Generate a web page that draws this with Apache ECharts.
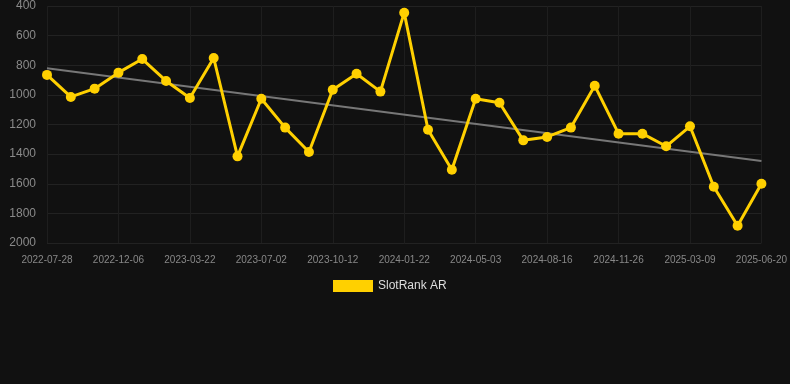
<!DOCTYPE html>
<html><head><meta charset="utf-8">
<script src="https://cdn.jsdelivr.net/npm/echarts@6/dist/echarts.min.js"></script>
<style>html,body{margin:0;padding:0;background:#111111;}#c{width:790px;height:384px;}</style>
</head><body><div id="c"></div>
<script>
const dates = ["2022-07-28","2022-09-10","2022-10-23","2022-12-06","2023-01-10","2023-02-14","2023-03-22","2023-04-25","2023-05-29","2023-07-02","2023-08-05","2023-09-08","2023-10-12","2023-11-15","2023-12-19","2024-01-22","2024-02-25","2024-03-30","2024-05-03","2024-06-06","2024-07-11","2024-08-16","2024-09-19","2024-10-23","2024-11-26","2024-12-30","2025-02-02","2025-03-09","2025-04-12","2025-05-16","2025-06-20"];
const slotRank = [865,1014,958,850,758,906,1021,751,1415,1026,1221,1386,965,857,978,445,1235,1505,1026,1053,1307,1284,1221,938,1262,1262,1347,1212,1620,1883,1600];
const trendStart = 821;
const trendEnd = 1446;
const yTicks = {min: 400, max: 2000, step: 200};

const trend = dates.map((d, i) => i === 0 ? trendStart : (i === dates.length - 1 ? trendEnd : null));

const chart = echarts.init(document.getElementById('c'), null, {renderer: 'canvas'});
chart.setOption({
  backgroundColor: '#111111',
  animation: false,
  grid: {left: 47, right: 28, top: 6, bottom: 141},
  legend: {
    data: [{name: 'SlotRank AR', icon: 'rect'}], top: 275, left: 328,
    itemWidth: 40, itemHeight: 12, itemGap: 10,
    textStyle: {color: '#dddddd', fontSize: 12, fontFamily: 'Liberation Sans, Arial, sans-serif'}
  },
  xAxis: {
    type: 'category', data: dates, boundaryGap: false,
    axisLine: {show: false},
    axisTick: {show: false},
    axisLabel: {interval: 2, color: '#888888', fontSize: 10, margin: 12, fontFamily: 'Liberation Sans, Arial, sans-serif'},
    splitLine: {show: true, interval: 2, lineStyle: {color: '#1e1e1e'}}
  },
  yAxis: {
    type: 'value', inverse: true, min: yTicks.min, max: yTicks.max, interval: yTicks.step,
    axisLine: {show: false}, axisTick: {show: false},
    axisLabel: {color: '#8a8a8a', fontSize: 12, margin: 11, fontFamily: 'Liberation Sans, Arial, sans-serif',
      formatter: v => String(v)},
    splitLine: {lineStyle: {color: '#222222'}}
  },
  series: [
    {
      name: 'Trend', type: 'line', data: trend, connectNulls: true,
      symbol: 'none', lineStyle: {color: '#777777', width: 2}, z: 1, silent: true
    },
    {
      name: 'SlotRank AR', type: 'line', data: slotRank,
      symbol: 'circle', symbolSize: 10,
      itemStyle: {color: '#FFD000'},
      lineStyle: {color: '#FFD000', width: 3}, z: 2
    }
  ]
});
</script></body></html>
